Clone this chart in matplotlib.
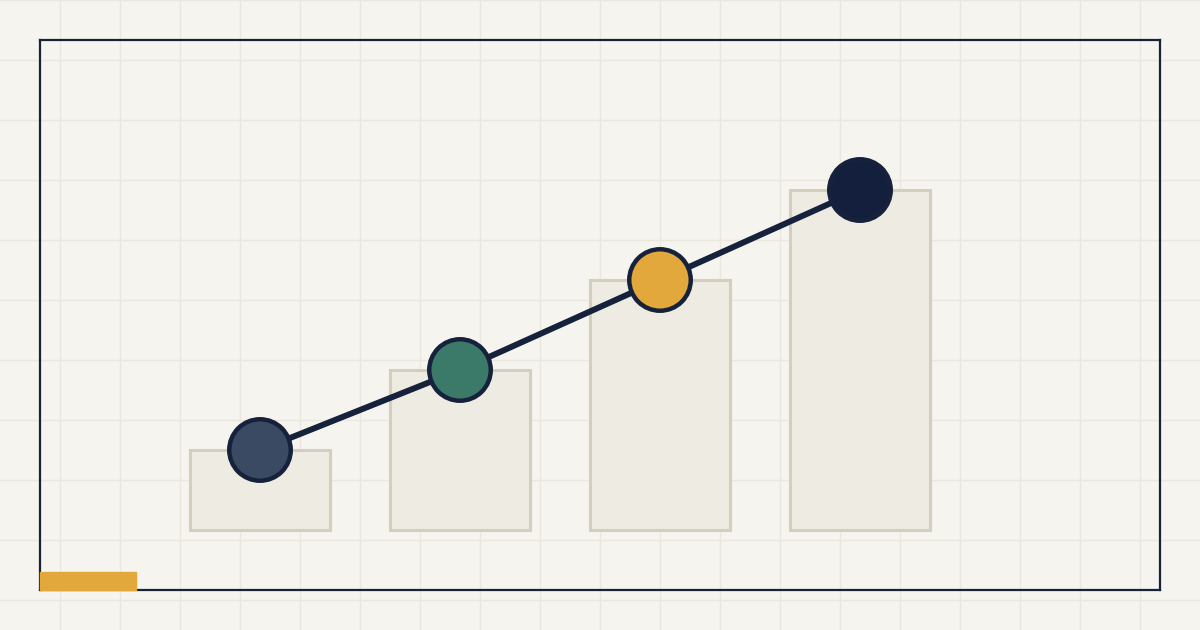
import numpy as np
import matplotlib.pyplot as plt
from matplotlib.patches import Rectangle

# Data
categories = ["A", "B", "C", "D"]
values = [20, 40, 62.5, 85]
point_colors = ["#3a4a63", "#3b7a68", "#e3a83b", "#131f3c"]

bg = "#f5f4ef"
navy = "#16213b"

fig = plt.figure(figsize=(12, 6.3), dpi=100)
fig.patch.set_facecolor(bg)

# Background grid over the whole canvas
grid_ax = fig.add_axes([0, 0, 1, 1])
grid_ax.set_xlim(0, 1200)
grid_ax.set_ylim(630, 0)
grid_ax.set_facecolor(bg)
for gx in np.arange(60, 1200, 60):
    grid_ax.axvline(gx, color="#ebe7df", lw=1.0, zorder=0)
for gy in np.arange(0, 630, 60):
    grid_ax.axhline(gy, color="#ebe7df", lw=1.0, zorder=0)
grid_ax.axis("off")

# Main chart area
ax = fig.add_axes([40 / 1200, 40 / 630, 1120 / 1200, 550 / 630])
ax.patch.set_alpha(0)
x = np.arange(len(categories))
ax.bar(x, values, width=0.7, color="#eeebe3", edgecolor="#d5cebd", linewidth=2.2, zorder=2)
ax.plot(x, values, color=navy, lw=4.3, zorder=3, solid_capstyle="round")
ax.scatter(x, values, s=1960, c=point_colors, edgecolors=navy, linewidths=3.2, zorder=4)

ax.set_xlim(-1.1, 4.5)
ax.set_ylim(-15, 122.5)
ax.set_xticks([])
ax.set_yticks([])
for sp in ax.spines.values():
    sp.set_color(navy)
    sp.set_linewidth(1.6)

# Accent strip bottom-left
ax.add_patch(Rectangle((0, 0), 96 / 1120, 18 / 550, transform=ax.transAxes,
                       color="#e3a83b", zorder=5, clip_on=False))

fig.savefig("out.png", dpi=100, facecolor=bg)
